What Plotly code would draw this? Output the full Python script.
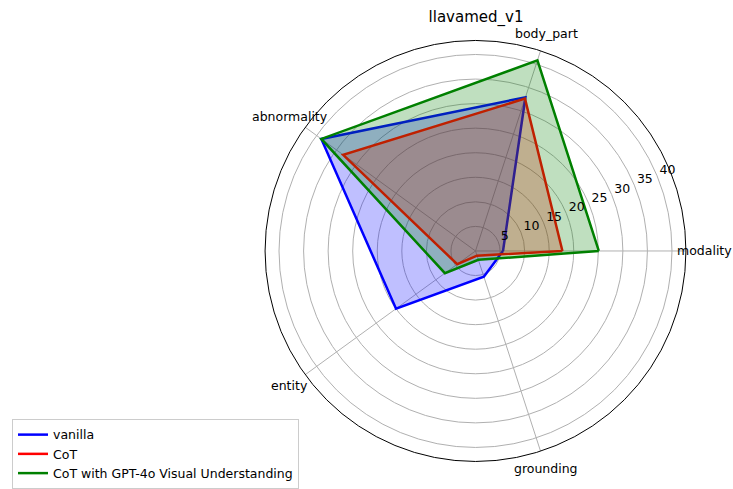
import math
import plotly.graph_objects as go

categories = ["modality", "body_part", "abnormality", "entity", "grounding"]
angles = [0, 72, 144, 216, 288]
vanilla = [5.6, 32.9, 38.8, 20.0, 5.5]
cot = [17.7, 32.6, 33.3, 4.6, 1.0]
cot_gpt4o = [25.1, 40.8, 38.8, 7.7, 1.9]
radial_ticks = [5, 10, 15, 20, 25, 30, 35, 40]

series = [
    ("vanilla", vanilla, "blue", "rgba(0,0,255,0.25)"),
    ("CoT", cot, "red", "rgba(255,0,0,0.25)"),
    ("CoT with GPT-4o Visual Understanding", cot_gpt4o, "green", "rgba(0,128,0,0.25)"),
]

fig = go.Figure()
for name, vals, col, fcol in series:
    fig.add_trace(go.Scatterpolar(
        r=vals + vals[:1], theta=angles + angles[:1], thetaunit="degrees",
        mode="lines", line=dict(color=col, width=2.5), fill="toself",
        fillcolor=fcol, showlegend=False, name=name))
for name, vals, col, fcol in series:
    fig.add_trace(go.Scatterpolar(
        r=[None], theta=[None], mode="lines", line=dict(color=col, width=2.5),
        name=name, showlegend=True))
# carrier for the radial tick-label axis
fig.add_trace(go.Scatterpolar(r=[None], theta=[None], subplot="polar2", showlegend=False))

rmax = max(max(vanilla), max(cot), max(cot_gpt4o)) * 1.05

W, H = 733, 489
cx, cy, R = 475.5, 252, 211.3
label_r = R + 18
lab_dy = 14.5

annotations = []
for cat, ang in zip(categories, angles):
    a = math.radians(ang)
    annotations.append(dict(
        text=cat, xref="paper", yref="paper", showarrow=False,
        x=(cx + label_r * math.cos(a)) / W, y=(H - cy + label_r * math.sin(a)) / H,
        xanchor="center", yanchor="middle", font=dict(size=12.5)))

dom = dict(x=[(cx - R) / W, (cx + R) / W], y=[(H - cy - R) / H, (H - cy + R) / H])
dom2 = dict(x=dom["x"], y=[(H - cy - R + lab_dy) / H, (H - cy + R + lab_dy) / H])
fig.update_layout(
    width=W, height=H,
    margin=dict(l=0, r=0, t=0, b=0),
    paper_bgcolor="white",
    font=dict(family="DejaVu Sans", size=12.5, color="black"),
    title=dict(text="llavamed_v1", x=476 / W, xanchor="center", y=1 - 17 / H,
               yanchor="middle", font=dict(size=15)),
    polar=dict(
        domain=dom,
        bgcolor="white",
        radialaxis=dict(range=[0, rmax], tickvals=radial_ticks, showticklabels=False,
                        showline=False, ticks="", gridcolor="#b0b0b0", gridwidth=0.8),
        angularaxis=dict(tickmode="array", tickvals=angles, ticktext=categories,
                         showticklabels=False,
                         thetaunit="degrees", rotation=0, direction="counterclockwise",
                         showline=True, linecolor="black", linewidth=1, ticks="",
                         gridcolor="#b0b0b0", gridwidth=0.8),
    ),
    polar2=dict(
        domain=dom2,
        bgcolor="rgba(0,0,0,0)",
        radialaxis=dict(range=[0, rmax], tickvals=radial_ticks, angle=22.5,
                        tickangle=22.5, side="clockwise",
                        showline=False, ticks="", showgrid=False,
                        tickfont=dict(size=12.5, color="black")),
        angularaxis=dict(showticklabels=False, showline=False, showgrid=False, ticks=""),
    ),
    annotations=annotations,
    legend=dict(x=12 / W, y=-2 / H, xanchor="left", yanchor="bottom",
                bordercolor="#cccccc", borderwidth=1, bgcolor="white",
                font=dict(size=12.5), tracegroupgap=0),
)
fig.write_html("out.html", config={"displayModeBar": False},
               post_script="document.body.style.margin='0';")
